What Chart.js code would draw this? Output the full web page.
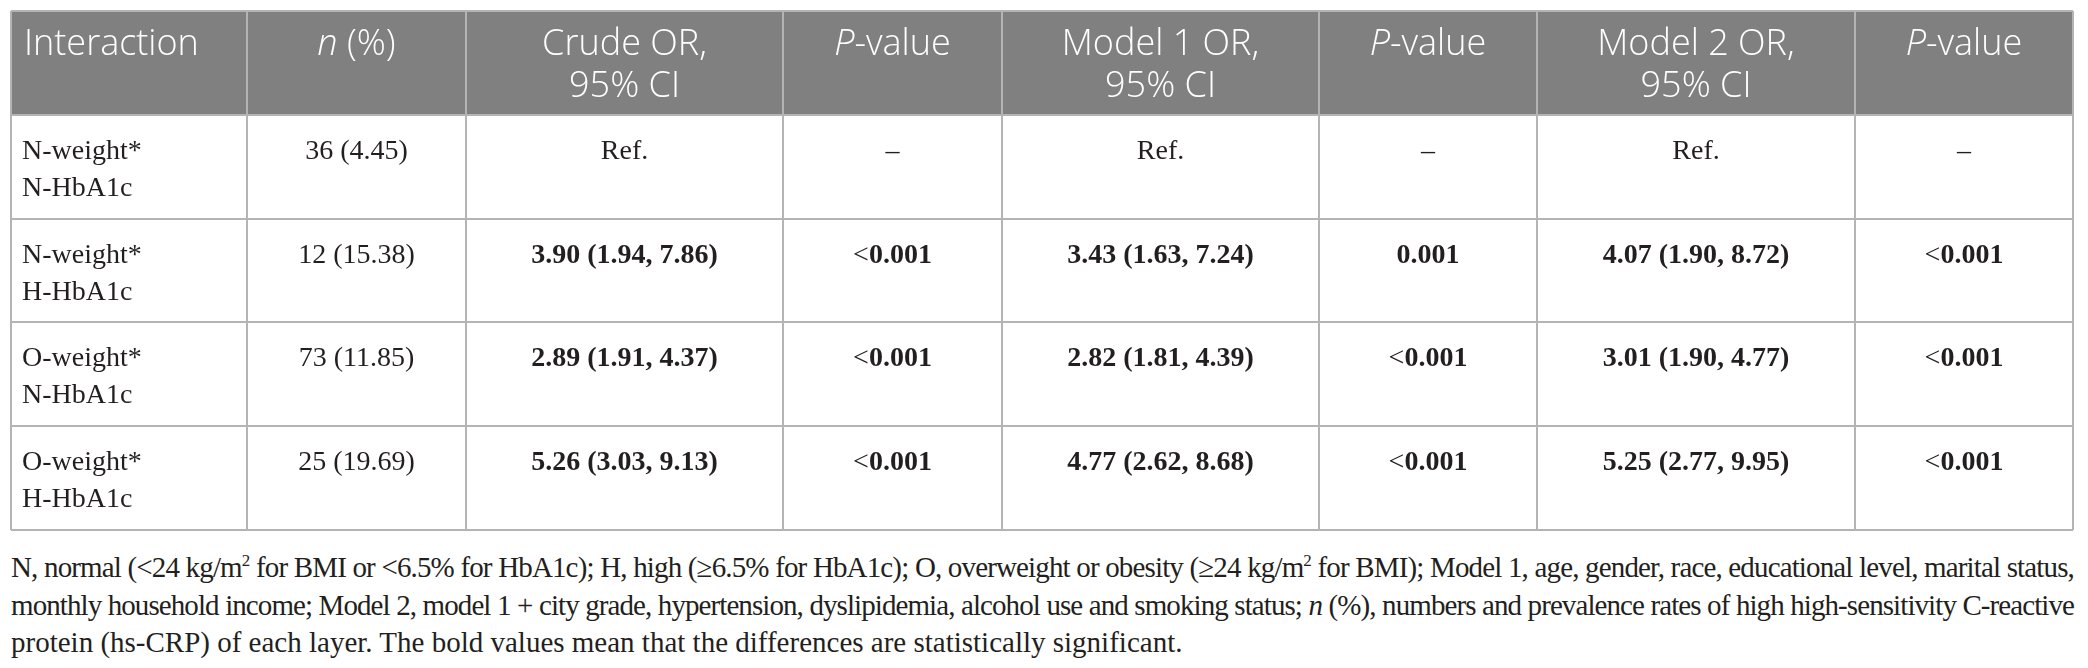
<!DOCTYPE html>
<html>
<head>
<meta charset="utf-8">
<title>Interaction of weight and HbA1c with hs-CRP</title>
<script src="https://cdn.jsdelivr.net/npm/chart.js@4.4.1/dist/chart.umd.min.js"></script>
<style>
  html, body { margin: 0; padding: 0; background: #fff; }
  #wrap { position: absolute; left: 0; top: 0; width: 2088px; height: 545px; }
  #note {
    position: absolute; left: 11px; top: 549px; width: 2063px;
    font-family: 'Liberation Serif', 'Times New Roman', serif;
    font-size: 29px; line-height: 37.5px; color: #231f20;
  }
  #note div { white-space: nowrap; }
  #note div.just { text-align: justify; text-align-last: justify; }
  #note sup { font-size: 17px; line-height: 0; vertical-align: 11px; }
</style>
</head>
<body>
<div id="wrap"><canvas id="tableChart"></canvas></div>
<div id="note">
  <div class="fit"><span>N, normal (&lt;24 kg/m<sup>2</sup> for BMI or &lt;6.5% for HbA1c); H, high (&ge;6.5% for HbA1c); O, overweight or obesity (&ge;24 kg/m<sup>2</sup> for BMI); Model 1, age, gender, race, educational level, marital status,</span></div>
  <div class="fit"><span>monthly household income; Model 2, model 1 + city grade, hypertension, dyslipidemia, alcohol use and smoking status; <i>n</i> (%), numbers and prevalence rates of high high-sensitivity C-reactive</span></div>
  <div><span>protein (hs-CRP) of each layer. The bold values mean that the differences are statistically significant.</span></div>
</div>
<script>
(function () {
  'use strict';

  // ============ DATA ============
  const weightGroups = ['N-weight*', 'N-weight*', 'O-weight*', 'O-weight*'];
  const hba1cGroups = ['N-HbA1c', 'H-HbA1c', 'N-HbA1c', 'H-HbA1c'];
  const nCases = [36, 12, 73, 25];
  const nPercent = [4.45, 15.38, 11.85, 19.69];
  // [OR, lower, upper]; null = reference layer
  const crudeOR = [null, [3.90, 1.94, 7.86], [2.89, 1.91, 4.37], [5.26, 3.03, 9.13]];
  const model1OR = [null, [3.43, 1.63, 7.24], [2.82, 1.81, 4.39], [4.77, 2.62, 8.68]];
  const model2OR = [null, [4.07, 1.90, 8.72], [3.01, 1.90, 4.77], [5.25, 2.77, 9.95]];
  const crudeP = [null, '<0.001', '<0.001', '<0.001'];
  const model1P = [null, '0.001', '<0.001', '<0.001'];
  const model2P = [null, '<0.001', '<0.001', '<0.001'];

  // header cells: each line is a list of [text, italic]
  const headerCells = [
    [[['Interaction', false]]],
    [[['n', true], [' (%)', false]]],
    [[['Crude OR,', false]], [['95% CI', false]]],
    [[['P', true], ['-value', false]]],
    [[['Model 1 OR,', false]], [['95% CI', false]]],
    [[['P', true], ['-value', false]]],
    [[['Model 2 OR,', false]], [['95% CI', false]]],
    [[['P', true], ['-value', false]]]
  ];

  // ============ LAYOUT / STYLE ============
  const COL_WIDTHS = [236, 219, 317, 219, 317, 218, 318, 218];
  const COL_EDGES = COL_WIDTHS.reduce(function (acc, w) { acc.push(acc[acc.length - 1] + w); return acc; }, [0]);
  const ROWS = weightGroups.length + 1;
  const HEAD_BG = '#808080';
  const GRID = '#b4b4b4';
  const INK = '#231f20';
  const SANS = "'Open Sans', 'Noto Sans', sans-serif";
  const SERIF = "'Liberation Serif', 'Times New Roman', serif";

  function fmtOR(v) {
    if (v === null) return [['Ref.', false]];
    return [[v[0].toFixed(2) + ' (' + v[1].toFixed(2) + ', ' + v[2].toFixed(2) + ')', true]];
  }
  function fmtP(p) {
    if (p === null) return [['\u2013', false]];
    if (p.charAt(0) === '<') return [['<', false], [p.slice(1), true]];
    return [[p, true]];
  }

  // body cells: runs of [text, bold]
  const bodyRows = weightGroups.map(function (w, i) {
    return [
      [[[w, false]], [[hba1cGroups[i], false]]],
      [[[nCases[i] + ' (' + nPercent[i].toFixed(2) + ')', false]]],
      [fmtOR(crudeOR[i])],
      [fmtP(crudeP[i])],
      [fmtOR(model1OR[i])],
      [fmtP(model1P[i])],
      [fmtOR(model2OR[i])],
      [fmtP(model2P[i])]
    ];
  });

  function drawRuns(ctx, runs, x, y, align, fontOf) {
    const widths = runs.map(function (r) { ctx.font = fontOf(r); return ctx.measureText(r[0]).width; });
    const total = widths.reduce(function (a, b) { return a + b; }, 0);
    let cx = align === 'left' ? x : x - total / 2;
    runs.forEach(function (r, i) {
      ctx.font = fontOf(r);
      ctx.fillText(r[0], cx, y);
      cx += widths[i];
    });
  }

  const tablePlugin = {
    id: 'tableCells',
    beforeDraw: function (chart) {
      const ctx = chart.ctx;
      const xs = chart.scales.x, ys = chart.scales.y;
      ctx.save();
      ctx.fillStyle = HEAD_BG;
      const y0 = ys.getPixelForValue(0), y1 = ys.getPixelForValue(1);
      ctx.fillRect(xs.left, y0, xs.right - xs.left, y1 - y0);
      ctx.restore();
    },
    afterDraw: function (chart) {
      const ctx = chart.ctx;
      const xs = chart.scales.x, ys = chart.scales.y;
      ctx.save();
      ctx.textBaseline = 'alphabetic';

      // header
      ctx.fillStyle = '#ffffff';
      const headTop = ys.getPixelForValue(0);
      headerCells.forEach(function (lines, c) {
        const left = xs.getPixelForValue(COL_EDGES[c]);
        const right = xs.getPixelForValue(COL_EDGES[c + 1]);
        const align = c === 0 ? 'left' : 'center';
        const x = c === 0 ? left + 13 : (left + right) / 2;
        lines.forEach(function (runs, li) {
          drawRuns(ctx, runs, x, headTop + 44 + li * 42, align, function (r) {
            return (r[1] ? 'italic ' : '') + '300 36px ' + SANS;
          });
        });
      });

      // body
      ctx.fillStyle = INK;
      bodyRows.forEach(function (cells, r) {
        const top = ys.getPixelForValue(r + 1);
        cells.forEach(function (lines, c) {
          const left = xs.getPixelForValue(COL_EDGES[c]);
          const right = xs.getPixelForValue(COL_EDGES[c + 1]);
          const align = c === 0 ? 'left' : 'center';
          const x = c === 0 ? left + 11 : (left + right) / 2;
          lines.forEach(function (runs, li) {
            drawRuns(ctx, runs, x, top + 44 + li * 37, align, function (run) {
              return (run[1] ? 'bold ' : '') + '28px ' + SERIF;
            });
          });
        });
      });
      ctx.restore();
    }
  };

  const rowEdges = [];
  for (let i = 0; i <= ROWS; i++) rowEdges.push(i);

  new Chart(document.getElementById('tableChart'), {
    type: 'scatter',
    data: { datasets: [] },
    options: {
      responsive: true,
      maintainAspectRatio: false,
      animation: false,
      events: [],
      layout: { padding: { left: 11, right: 15, top: 11, bottom: 15 } },
      plugins: { legend: { display: false }, tooltip: { enabled: false } },
      scales: {
        x: {
          type: 'linear',
          min: 0,
          max: COL_EDGES[COL_EDGES.length - 1],
          afterBuildTicks: function (axis) { axis.ticks = COL_EDGES.map(function (v) { return { value: v }; }); },
          ticks: { display: false },
          grid: { color: GRID, lineWidth: 2, drawTicks: false },
          border: { display: false }
        },
        y: {
          type: 'linear',
          min: 0,
          max: ROWS,
          reverse: true,
          afterBuildTicks: function (axis) { axis.ticks = rowEdges.map(function (v) { return { value: v }; }); },
          ticks: { display: false },
          grid: { color: GRID, lineWidth: 2, drawTicks: false },
          border: { display: false }
        }
      }
    },
    plugins: [tablePlugin]
  });

  // ============ FOOTNOTE: squeeze lines that are too long, then justify ============
  document.querySelectorAll('#note .fit').forEach(function (line) {
    const span = line.firstElementChild;
    const natural = span.getBoundingClientRect().width;
    const avail = line.clientWidth;
    if (natural > avail) {
      line.style.letterSpacing = ((avail - natural - 4) / span.textContent.length).toFixed(3) + 'px';
    }
    line.classList.add('just');
  });
})();
</script>
</body>
</html>
